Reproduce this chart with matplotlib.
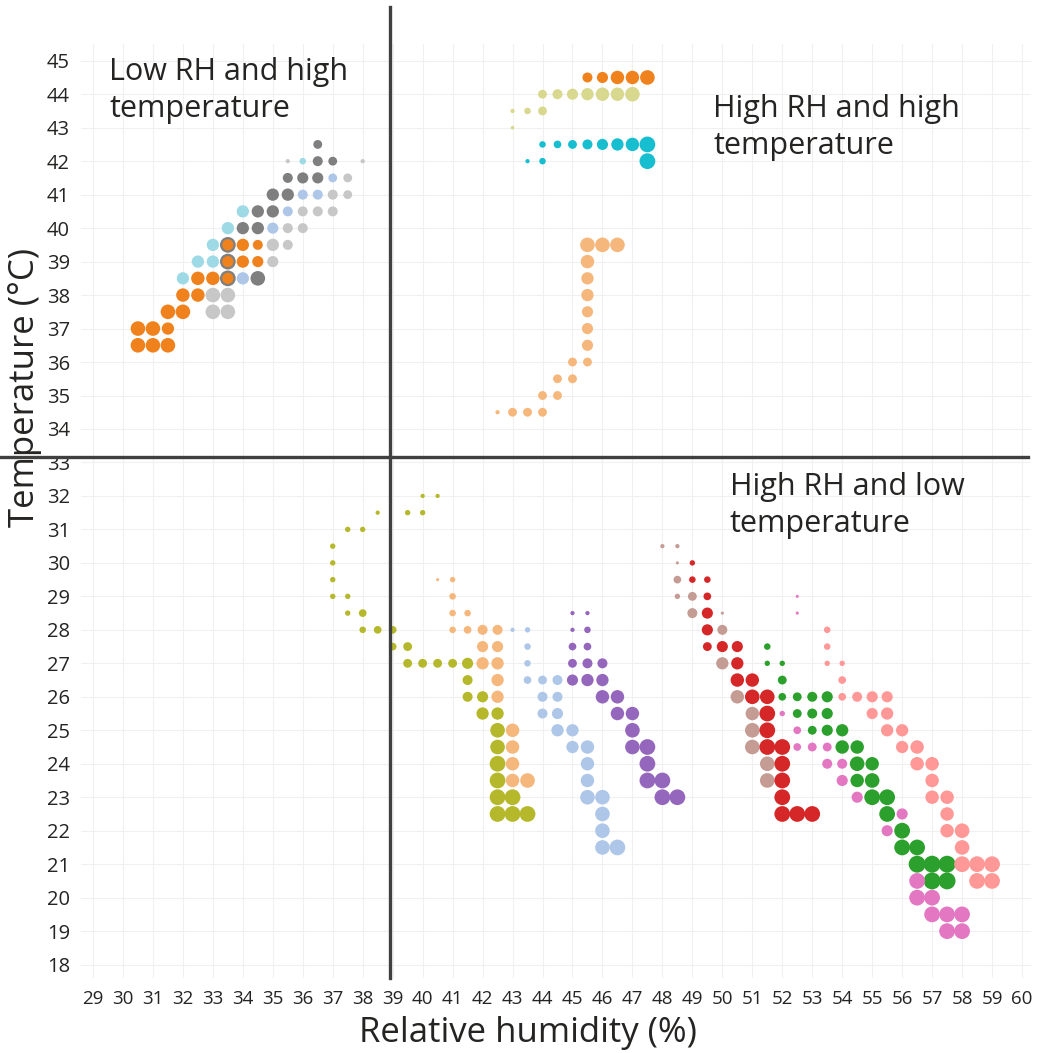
import matplotlib.pyplot as plt

plt.rcParams['font.family'] = ['Open Sans', 'DejaVu Sans']

# ---- data: relative humidity (%), temperature (°C), bubble value ----
# low RH / high temperature cluster
orange_rh = [30.5, 31, 31.5, 30.5, 31, 31.5, 31.5, 32, 32, 32.5, 32.5, 33, 33.5,
             33.5, 34, 34.5, 33.5, 34, 34.5]
orange_t = [37, 37, 37, 36.5, 36.5, 36.5, 37.5, 37.5, 38, 38, 38.5, 38.5, 38.5,
            39, 39, 39, 39.5, 39.5, 39.5]
orange_n = [6, 6, 5, 6, 6, 6, 6, 6, 5.5, 5.5, 5.5, 5.5, 4.5, 4.5, 5, 4.5, 4.5, 5, 4]

dgray_rh = [36.5, 36.5, 37, 35.5, 36, 36.5, 35, 35.5, 34.5, 35, 34, 34.5, 33.5, 33.5, 33.5, 34.5]
dgray_t = [42.5, 42, 42, 41.5, 41.5, 41.5, 41, 41, 40.5, 40.5, 40, 40, 39.5, 39, 38.5, 38.5]
dgray_n = [3.5, 4, 3.5, 4, 4.5, 4.5, 5, 5, 5, 5, 5, 5, 6.5, 6.5, 6.5, 6]

lcyan_rh = [36, 34, 33.5, 33, 32.5, 33, 32]
lcyan_t = [42, 40.5, 40, 39.5, 39, 39, 38.5]
lcyan_n = [2.5, 5, 5, 5, 5, 5, 5]

lblue_rh = [37, 36, 36.5, 35.5, 35, 34]
lblue_t = [41.5, 41, 41, 40.5, 40, 38.5]
lblue_n = [3.5, 4, 4, 4, 4.5, 5]

lgray_rh = [35.5, 38, 37.5, 37, 37.5, 36, 36.5, 37, 35.5, 36, 35, 35.5, 35, 33, 33.5, 33, 33.5]
lgray_t = [42, 42, 41.5, 41, 41, 40.5, 40.5, 40.5, 40, 40, 39.5, 39.5, 39, 38, 38, 37.5, 37.5]
lgray_n = [1.5, 1.5, 3.5, 4, 3.5, 4, 4, 4, 4, 4, 5, 4, 4.5, 6, 6, 6, 6]

# high RH / high temperature
orange2_rh = [45.5, 46, 46.5, 47, 47.5]
orange2_t = [44.5, 44.5, 44.5, 44.5, 44.5]
orange2_n = [4, 4.5, 5.5, 5.5, 6]

khaki_rh = [44, 44.5, 45, 45.5, 46, 46.5, 47, 43, 43.5, 44, 43]
khaki_t = [44, 44, 44, 44, 44, 44, 44, 43.5, 43.5, 43.5, 43]
khaki_n = [3.5, 4, 4.5, 5, 5.5, 5.5, 6, 1.5, 2.5, 3.5, 1.2]

cyan_rh = [44, 44.5, 45, 45.5, 46, 46.5, 47, 47.5, 43.5, 44, 47.5]
cyan_t = [42.5, 42.5, 42.5, 42.5, 42.5, 42.5, 42.5, 42.5, 42, 42, 42]
cyan_n = [2.5, 3, 3.5, 4, 4.5, 5, 5.5, 6.5, 1.5, 2.5, 6.5]

lorange_rh = [45.5, 46, 46.5, 45.5, 45.5, 45.5, 45.5, 45.5, 45.5, 45, 45.5, 44.5, 45,
              44, 44.5, 42.5, 43, 43.5, 44]
lorange_t = [39.5, 39.5, 39.5, 39, 38.5, 38, 37.5, 37, 36.5, 36, 36, 35.5, 35.5,
             35, 35, 34.5, 34.5, 34.5, 34.5]
lorange_n = [6, 6, 6, 5.5, 5, 5, 4.5, 4.5, 4.5, 3.5, 3.5, 3.5, 3.5, 3.5, 3.5, 1.5, 3.5, 3.5, 3.5]

# high RH / low temperature
olive_rh = [40, 40.5, 38.5, 39.5, 40, 37.5, 38, 37, 37, 37, 37, 37.5, 37.5, 38,
            38, 38.5, 39, 39, 39.5, 39.5, 40, 40.5, 41, 41.5, 41.5, 41.5, 42,
            42, 42.5, 42.5, 42.5, 42.5, 42.5, 42.5, 43, 42.5, 43, 43.5]
olive_t = [32, 32, 31.5, 31.5, 31.5, 31, 31, 30.5, 30, 29.5, 29, 29, 28.5, 28.5,
           28, 28, 28, 27.5, 27.5, 27, 27, 27, 27, 27, 26.5, 26, 26,
           25.5, 25.5, 25, 24.5, 24, 23.5, 23, 23, 22.5, 22.5, 22.5]
olive_n = [1.5, 1.5, 1.5, 2, 2, 2, 2, 2, 2, 2, 2, 2, 2, 3,
           2.5, 3, 3, 3, 3.5, 3.5, 3.5, 3.5, 3.5, 4.5, 4, 4, 4.5,
           5, 5, 6, 6, 6.5, 6.5, 6.5, 6.5, 6.5, 6.5, 6.5]

lorange2_rh = [40.5, 41, 41, 41, 41.5, 41, 41.5, 42, 42.5, 42, 42.5, 42, 42.5,
               42.5, 42.5, 43, 43, 43, 43, 43.5]
lorange2_t = [29.5, 29.5, 29, 28.5, 28.5, 28, 28, 28, 28, 27.5, 27.5, 27, 27,
              26.5, 26, 25, 24.5, 24, 23.5, 23.5]
lorange2_n = [1, 2, 2.5, 2.5, 2.5, 2.5, 3, 4, 4, 4.5, 4.5, 5, 5,
              5, 5, 5.5, 5.5, 5.5, 5.5, 6]

lblue2_rh = [43, 43.5, 43.5, 43.5, 43.5, 44, 44.5, 44, 44.5, 44, 44.5, 44.5, 45,
             45, 45.5, 45.5, 45.5, 45.5, 46, 46, 46, 46, 46.5]
lblue2_t = [28, 28, 27.5, 27, 26.5, 26.5, 26.5, 26, 26, 25.5, 25.5, 25, 25,
            24.5, 24.5, 24, 23.5, 23, 23, 22.5, 22, 21.5, 21.5]
lblue2_n = [1.5, 2, 2.5, 2.5, 3, 3.5, 4, 4, 4, 4, 4.5, 5, 5,
            5, 5.5, 5.5, 5.5, 6, 6, 6, 6, 6, 6.5]

purple_rh = [45, 45.5, 45, 45.5, 45, 45.5, 45, 45.5, 46, 45, 45.5, 46, 46, 46.5,
             46.5, 47, 47, 47, 47.5, 47.5, 47.5, 48, 48, 48.5]
purple_t = [28.5, 28.5, 28, 28, 27.5, 27.5, 27, 27, 27, 26.5, 26.5, 26.5, 26, 26,
            25.5, 25.5, 25, 24.5, 24.5, 24, 23.5, 23.5, 23, 23]
purple_n = [1.5, 1.5, 1.5, 2.5, 3, 3, 3.5, 4, 4, 4.5, 5, 5, 5.5, 5.5,
            5.5, 5.5, 6, 6, 6.5, 6.5, 6.5, 6.5, 6.5, 6.5]

brown_rh = [48, 48.5, 48.5, 48.5, 48.5, 49, 49, 50, 50, 50, 50.5, 51, 51, 51, 51.5, 51.5]
brown_t = [30.5, 30.5, 30, 29.5, 29, 29, 28.5, 28.5, 28, 27, 26, 25.5, 25, 24.5, 24, 23.5]
brown_n = [1.5, 1.5, 1, 3, 2, 3.5, 4, 1, 4, 5, 5.5, 5.5, 6, 6, 6, 6]

red_rh = [49, 49, 49.5, 49.5, 49.5, 49.5, 49.5, 50, 50.5, 50.5, 50.5, 51, 51, 51.5,
          51.5, 51.5, 51.5, 52, 52, 52, 52, 52, 52.5, 53]
red_t = [30, 29.5, 29.5, 29, 28.5, 28, 27.5, 27.5, 27.5, 27, 26.5, 26.5, 26, 26,
         25.5, 25, 24.5, 24.5, 24, 23.5, 23, 22.5, 22.5, 22.5]
red_n = [2, 2.5, 2.5, 3, 4.5, 4.5, 3.5, 4.5, 4.5, 5, 5.5, 5.5, 6, 6,
         6.5, 6.5, 6.5, 6.5, 6.5, 6.5, 6.5, 6.5, 6.5, 6.5]

green_rh = [51.5, 51.5, 52, 52, 52, 52.5, 53, 53.5, 52.5, 53, 53.5, 53, 53.5, 54,
            54, 54.5, 54.5, 55, 54.5, 55, 55, 55.5, 55.5, 56, 56, 56.5,
            56.5, 57, 57.5, 57, 57.5]
green_t = [27.5, 27, 27, 26.5, 26, 26, 26, 26, 25.5, 25.5, 25.5, 25, 25, 25,
           24.5, 24.5, 24, 24, 23.5, 23.5, 23, 23, 22.5, 22, 21.5, 21.5,
           21, 21, 21, 20.5, 20.5]
green_n = [2.5, 2, 2, 3.5, 3, 3.5, 4, 4.5, 3.5, 4, 4.5, 3.5, 4.5, 5,
           5.5, 5.5, 6, 5.5, 5.5, 6, 6.5, 6.5, 6.5, 6.5, 6.5, 6.5,
           7, 7, 7, 7, 7]

pink_rh = [52.5, 52.5, 52, 52.5, 52.5, 53, 53.5, 53.5, 54, 54, 54.5, 56, 55.5,
           56.5, 56.5, 57, 57, 57.5, 58, 57.5, 58]
pink_t = [29, 28.5, 25.5, 25, 24.5, 24.5, 24.5, 24, 24, 23.5, 23, 22.5, 22,
          20.5, 20, 20, 19.5, 19.5, 19.5, 19, 19]
pink_n = [1, 1, 2, 3, 3, 3.5, 3.5, 4, 4, 4.5, 4.5, 4.5, 4.5,
          6.5, 6.5, 6.5, 6.5, 6.5, 6.5, 6.5, 6.5]

salmon_rh = [53.5, 53.5, 53.5, 54, 54, 54, 54.5, 55, 55.5, 55, 55.5, 55.5, 56,
             56, 56.5, 56.5, 57, 57, 57, 57.5, 57.5, 57.5, 58, 58, 58, 58.5, 59,
             58.5, 59]
salmon_t = [28, 27.5, 27, 27, 26.5, 26, 26, 26, 26, 25.5, 25.5, 25, 25,
            24.5, 24.5, 24, 24, 23.5, 23, 23, 22.5, 22, 22, 21.5, 21, 21, 21,
            20.5, 20.5]
salmon_n = [2.5, 2.5, 2, 2, 3, 3, 4, 4.5, 4.5, 4.5, 5, 5, 5,
            5, 5.5, 5.5, 5.5, 5.5, 5.5, 5.5, 5.5, 5.5, 6, 6, 6.5, 6.5, 6.5,
            6.5, 6.5]

series = [
    (dgray_rh, dgray_t, dgray_n, '#7f7f7f'),
    (orange_rh, orange_t, orange_n, '#f0821e'),
    (lcyan_rh, lcyan_t, lcyan_n, '#9edae5'),
    (lblue_rh, lblue_t, lblue_n, '#aec7e8'),
    (lgray_rh, lgray_t, lgray_n, '#c7c7c7'),
    (orange2_rh, orange2_t, orange2_n, '#f0821e'),
    (khaki_rh, khaki_t, khaki_n, '#d8d88f'),
    (cyan_rh, cyan_t, cyan_n, '#17becf'),
    (lorange_rh, lorange_t, lorange_n, '#f5b77c'),
    (olive_rh, olive_t, olive_n, '#b5b82a'),
    (lorange2_rh, lorange2_t, lorange2_n, '#f5b77c'),
    (lblue2_rh, lblue2_t, lblue2_n, '#aec7e8'),
    (purple_rh, purple_t, purple_n, '#9467bd'),
    (brown_rh, brown_t, brown_n, '#c49c94'),
    (red_rh, red_t, red_n, '#d62728'),
    (green_rh, green_t, green_n, '#2ca02c'),
    (pink_rh, pink_t, pink_n, '#e377c2'),
    (salmon_rh, salmon_t, salmon_n, '#ff9896'),
]


def bubble_area(v):
    # bubble value -> marker area (pt^2)
    r_px = 1.15 * v + 0.4
    return (2 * r_px * 0.72) ** 2


fig = plt.figure(figsize=(10.42, 10.53), dpi=100)
ax = fig.add_axes([81 / 1042, 1 - 978 / 1053, 950 / 1042, 934 / 1053])

for rh, t, n, col in series:
    ax.scatter(rh, t, s=[bubble_area(v) for v in n], c=col, linewidths=0, zorder=3)

ax.set_xlim(28.6, 60.3)
ax.set_ylim(17.6, 45.5)
ax.set_xticks(range(29, 61))
ax.set_yticks(range(18, 46))
ax.grid(True, color='#f0f0f0', linewidth=0.8, zorder=0)
for s in ax.spines.values():
    s.set_visible(False)
ax.tick_params(length=0, colors='#252423')
ax.tick_params(axis='x', labelsize=13.5, pad=9)
ax.tick_params(axis='y', labelsize=14.5, pad=8)

# quadrant dividers
ax.plot([38.9, 38.9], [17.6, 46.6], color='#404040', lw=2.4, clip_on=False, zorder=4)
ax.plot([25.9, 60.2], [33.15, 33.15], color='#404040', lw=2.4, clip_on=False, zorder=4)

txt = dict(fontsize=22, color='#252423', va='top', ha='left', linespacing=1.3)
ax.text(29.55, 45.1, 'Low RH and high\ntemperature', **txt)
ax.text(49.7, 44.0, 'High RH and high\ntemperature', **txt)
ax.text(50.25, 32.72, 'High RH and low\ntemperature', **txt)

fig.text(0.507, 0.01, 'Relative humidity (%)', fontsize=25, color='#252423', ha='center')
fig.text(0.008, 0.632, 'Temperature (°C)', fontsize=25, color='#252423',
         rotation=90, va='center')

fig.savefig('out.png', dpi=100)
